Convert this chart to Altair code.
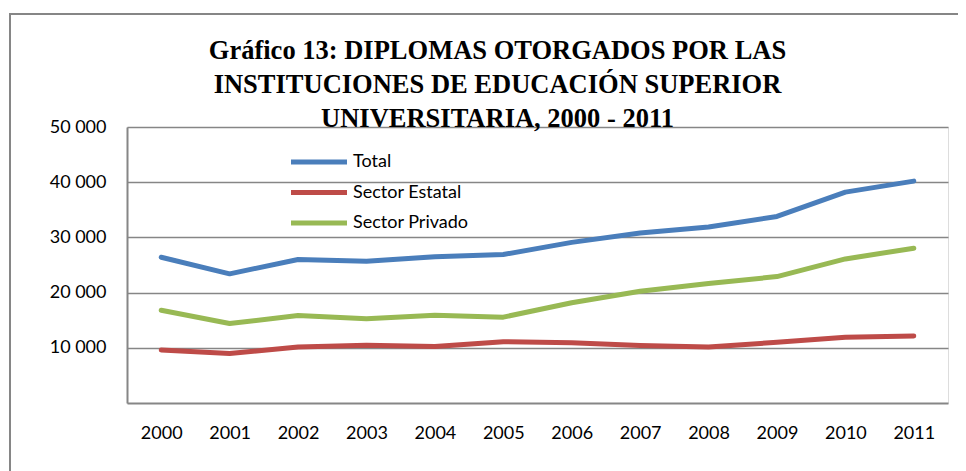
import altair as alt
import pandas as pd

years = ["2000", "2001", "2002", "2003", "2004", "2005", "2006", "2007", "2008", "2009", "2010", "2011"]
total = [26400, 23400, 26000, 25700, 26500, 26900, 29100, 30800, 31900, 33800, 38200, 40200]
estatal = [9600, 8950, 10150, 10450, 10250, 11100, 10900, 10400, 10150, 11000, 11900, 12150]
privado = [16800, 14400, 15850, 15250, 15900, 15550, 18150, 20250, 21650, 22900, 26100, 28050]
series_names = ["Total", "Sector Estatal", "Sector Privado"]
series_colors = ["#4A7EBB", "#BE4B48", "#98B954"]
y_ticks = [10000, 20000, 30000, 40000, 50000]
title_lines = [
    "Gráfico 13: DIPLOMAS OTORGADOS POR LAS",
    "INSTITUCIONES DE EDUCACIÓN SUPERIOR",
    "UNIVERSITARIA, 2000 - 2011",
]

rows = []
for name, vals in zip(series_names, [total, estatal, privado]):
    for y, v in zip(years, vals):
        rows.append({"year": y, "serie": name, "value": v})
df = pd.DataFrame(rows)

GRAY = "#868686"
FONT = "Lato"

lines = alt.Chart(df).mark_line(strokeWidth=5, strokeCap="round", strokeJoin="round").encode(
    x=alt.X("year:N", sort=years,
            scale=alt.Scale(type="point", padding=0.5),
            axis=alt.Axis(title=None, labelAngle=0, ticks=False, domain=True,
                          domainColor=GRAY, domainWidth=2, labelPadding=21,
                          labelFont=FONT, labelFontSize=18, labelColor="#000000",
                          grid=False)),
    y=alt.Y("value:Q", scale=alt.Scale(domain=[0, 50000], nice=False),
            axis=alt.Axis(title=None, values=y_ticks, ticks=False, domain=True,
                          domainColor=GRAY, domainWidth=2, grid=True,
                          gridColor=GRAY, gridWidth=1.5, labelPadding=21,
                          labelFont=FONT, labelFontSize=18, labelColor="#000000",
                          labelExpr="replace(format(datum.value, ','), ',', ' ')")),
    color=alt.Color("serie:N", sort=series_names,
                    scale=alt.Scale(domain=series_names, range=series_colors),
                    legend=alt.Legend(title=None, orient="none", legendX=183, legendY=26,
                                      symbolType="M-7,0H7", symbolSize=64,
                                      symbolStrokeWidth=5, labelOffset=25,
                                      rowPadding=10.5, padding=0,
                                      labelFont=FONT, labelFontSize=18,
                                      labelColor="#000000")),
    detail="serie:N",
)

frame_left = alt.Chart(df).mark_rule(color=GRAY, strokeWidth=2).encode(
    x=alt.value(-117), y=alt.value(-113), y2=alt.value(400)
)
frame_top = alt.Chart(df).mark_rule(color=GRAY, strokeWidth=2).encode(
    x=alt.value(-118), x2=alt.value(900), y=alt.value(-113)
)

chart = alt.layer(frame_left, frame_top, lines).properties(
    width=821,
    height=276,
    title=alt.TitleParams(text=title_lines, font="Liberation Serif", fontSize=26.5,
                          fontWeight="bold", color="#000000", lineHeight=34,
                          anchor="middle", dx=-40, offset=-119),
    autosize=alt.AutoSizeParams(type="none"),
    padding={"left": 119, "top": 119, "right": 10, "bottom": 70},
).configure_view(strokeWidth=0).configure(background="white")

chart.save("out.html", embed_options={"renderer": "svg", "actions": False})
